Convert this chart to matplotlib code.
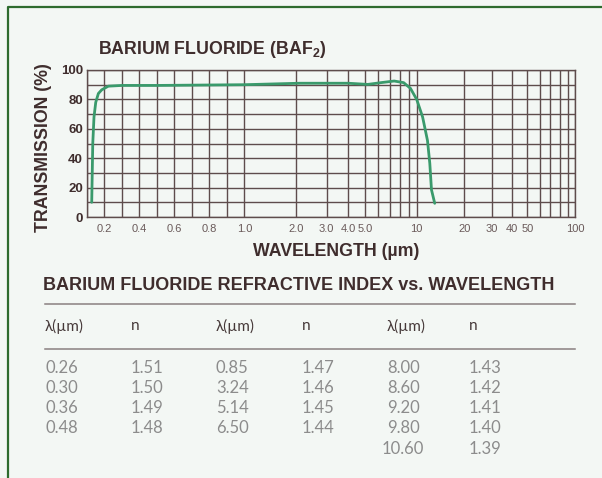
import numpy as np
import matplotlib
matplotlib.use("Agg")
import matplotlib.pyplot as plt
from matplotlib.lines import Line2D

# transmission curve (wavelength um, %)
wl = [0.127, 0.13, 0.133, 0.14, 0.15, 0.165, 0.184, 0.222, 0.3, 0.5, 1.0,
      2.1, 3.0, 4.0, 5.2, 6.2, 7.4, 8.4, 9.2, 10.0, 10.9, 11.7, 12.1, 12.4, 13.0]
trans = [10, 30, 50, 68, 78, 84, 86.5, 89, 89.5, 89.5, 90,
         91, 91, 91, 90.2, 91.4, 92.5, 91.4, 87.5, 80, 68, 52, 36.5, 18.5, 9.3]

grid_x = [0.1, 0.2, 0.3, 0.4, 0.5, 0.6, 0.7, 0.8, 0.9, 1.0,
          2, 3, 4, 5, 6, 7, 8, 9, 10, 20, 30, 40, 50, 60, 70, 80, 90, 100]
x_labels = {0.2: "0.2", 0.4: "0.4", 0.6: "0.6", 0.8: "0.8", 1.0: "1.0",
            2: "2.0", 3: "3.0", 4: "4.0", 5: "5.0", 10: "10", 20: "20",
            30: "30", 40: "40", 50: "50", 100: "100"}
y_grid = list(range(0, 101, 10))

# refractive index table, three column pairs
lam1 = ["0.26", "0.30", "0.36", "0.48"]
n1 = ["1.51", "1.50", "1.49", "1.48"]
lam2 = ["0.85", "3.24", "5.14", "6.50"]
n2 = ["1.47", "1.46", "1.45", "1.44"]
lam3 = ["8.00", "8.60", "9.20", "9.80", "10.60"]
n3 = ["1.43", "1.42", "1.41", "1.40", "1.39"]

BG = "#f3f7f4"
DARK = "#3f2d2d"
GRID = "#5e4c4c"
GREEN = "#3a9a6c"
W, H = 602, 478

# chart scale: linear 0.1-1, log 1-10, slightly tighter log 10-100
A = 174.5 / 172.0
C = 158.0 / 172.0


def fwd(x):
    x = np.asarray(x, dtype=float)
    lg = np.log10(np.clip(x, 1e-9, None))
    return np.where(x <= 1, (x - 1) * A, np.where(x <= 10, lg, 1 + (lg - 1) * C))


def inv(y):
    y = np.asarray(y, dtype=float)
    return np.where(y <= 0, y / A + 1,
                    np.where(y <= 1, 10 ** np.clip(y, -5, 5),
                             10 ** np.clip(1 + (y - 1) / C, -5, 5)))


plt.rcParams["mathtext.fontset"] = "custom"
plt.rcParams["mathtext.bf"] = "Liberation Sans:bold"
plt.rcParams["mathtext.rm"] = "Liberation Sans"

fig = plt.figure(figsize=(W / 100, H / 100), dpi=100, facecolor=BG)


def px(x, y):
    return x / W, 1 - y / H


ax = fig.add_axes([87 / W, 1 - 217 / H, (575 - 87) / W, (217 - 70) / H])
ax.set_facecolor(BG)
ax.set_xscale("function", functions=(fwd, inv))
ax.set_xlim(0.1, 100)
ax.set_ylim(0, 100)

ax.plot(wl, trans, color=GREEN, lw=2.0, solid_capstyle="round", zorder=3)

ax.set_xticks(grid_x)
ax.set_xticklabels([x_labels.get(v, "") for v in grid_x])
ax.set_yticks(y_grid)
ax.set_yticklabels([str(v) if v % 20 == 0 else "" for v in y_grid])
ax.grid(True, color=GRID, lw=1.0)
for s in ax.spines.values():
    s.set_color(GRID)
    s.set_linewidth(1.0)
ax.tick_params(axis="both", length=0)
ax.tick_params(axis="x", pad=5, labelsize=8, labelcolor="#6a5a5a")
ax.tick_params(axis="y", pad=3, labelsize=9.5, labelcolor=DARK)
for t in ax.get_yticklabels():
    t.set_fontweight("bold")
    t.set_family("Liberation Sans")
for t in ax.get_xticklabels():
    t.set_family("Liberation Sans")

bold = dict(fontweight="bold", color=DARK, family="Liberation Sans")
fig.text(*px(98, 50), r"BARIUM FLUORIDE (BAF$_\mathbf{2}$)", ha="left", va="center",
         fontsize=12.8, **bold)
fig.text(*px(44, 148), "TRANSMISSION (%)", rotation=90, ha="center", va="center",
         fontsize=12.8, **bold)
fig.text(*px(336, 251), "WAVELENGTH (µm)", ha="center", va="center",
         fontsize=12.8, **bold)

# refractive index table
fig.text(*px(43, 285), "BARIUM FLUORIDE REFRACTIVE INDEX vs. WAVELENGTH", ha="left",
         va="center", fontsize=13, **bold)
for yy in (304, 349):
    fig.add_artist(Line2D([45 / W, 575 / W], [1 - yy / H] * 2, color="#8a8080", lw=1.1))

col_x = [(45, 131), (216, 302), (387, 469)]
for lx, nx in col_x:
    fig.text(*px(lx, 326), "λ(µm)", ha="left", va="center", fontsize=11,
             color="#453838", family="Lato")
    fig.text(*px(nx, 326), "n", ha="left", va="center", fontsize=11,
             color="#453838", family="Lato")

row_y = [368, 388, 408, 428, 449]
cell = dict(fontsize=12, color="#8c8c8c", family="Lato", fontweight="normal")
for (lx, nx), lams, ns in zip(col_x, [lam1, lam2, lam3], [n1, n2, n3]):
    for i, (l, n) in enumerate(zip(lams, ns)):
        if len(l) > 4:
            fig.text(*px(lx + 37, row_y[i]), l, ha="right", va="center", **cell)
        else:
            fig.text(*px(lx, row_y[i]), l, ha="left", va="center", **cell)
        fig.text(*px(nx, row_y[i]), n, ha="left", va="center", **cell)

# green frame on left and top
fig.add_artist(Line2D([8 / W, 8 / W, 1], [0, 1 - 7 / H, 1 - 7 / H], color="#2d6b2d", lw=1.6))

fig.savefig("out.png", dpi=100, facecolor=BG)
